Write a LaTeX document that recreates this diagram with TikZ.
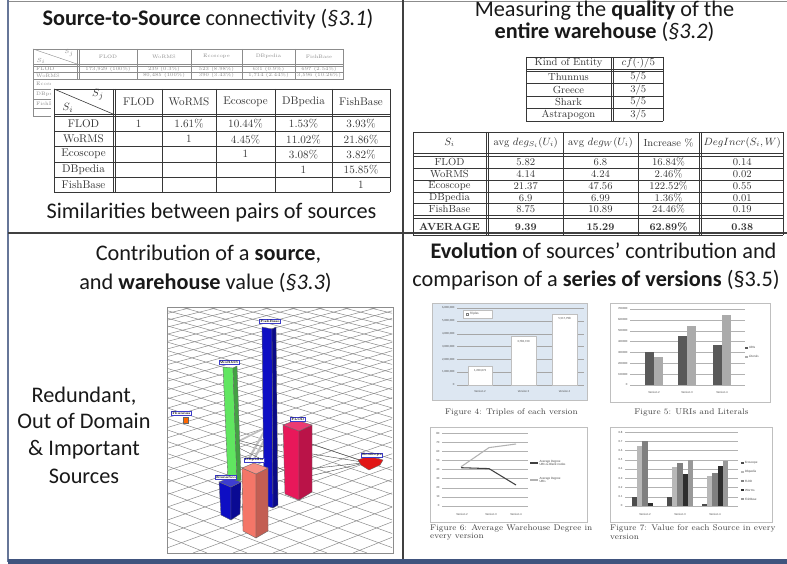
\documentclass[tikz,border=0pt]{standalone}
\usepackage{fontspec}
\usepackage{amsmath}
\newfontfamily\calib{Carlito}
\definecolor{frameblue}{RGB}{64,84,126}
\definecolor{divgray}{RGB}{64,64,64}
\definecolor{tabgray}{RGB}{55,55,55}
\definecolor{backgray}{RGB}{140,140,140}
\definecolor{plotblue}{RGB}{221,231,242}
\definecolor{wormsgreen}{RGB}{96,230,96}
\definecolor{flodpink}{RGB}{232,24,90}
\definecolor{dbsalmon}{RGB}{244,118,104}
\definecolor{fbblue}{RGB}{14,14,196}
\definecolor{ecored}{RGB}{226,22,22}
\definecolor{lblblue}{RGB}{60,60,200}

\tikzset{
  titre/.style={font=\calib\fontsize{19}{22}\selectfont, text=black!90, inner sep=0pt, anchor=base},
  cell/.style={font=\fontsize{9.5}{11}\selectfont, text=tabgray, inner sep=0pt},
  smallcell/.style={font=\fontsize{8.8}{10}\selectfont, text=tabgray, inner sep=0pt},
  backcell/.style={font=\fontsize{4.2}{5}\selectfont, text=backgray, inner sep=0pt},
  tabline/.style={draw=tabgray, line width=0.5pt},
  backline/.style={draw=backgray, line width=0.35pt},
  figbox/.style={draw=black!25, line width=0.4pt},
  gridl/.style={draw=black!48, line width=0.4pt},
  axlab/.style={font=\calib\fontsize{2.6}{3}\selectfont, text=black!70, inner sep=0.3pt},
  legtext/.style={font=\calib\fontsize{2.8}{3.2}\selectfont, text=black!70, inner sep=0.3pt, anchor=west, align=left},
  legenda/.style={font=\fontsize{7}{8}\selectfont, text=black!75, inner sep=0pt},
  barface/.style={draw=black!60, line width=0.3pt},
  edge/.style={draw=black!70, line width=0.35pt},
  barlabel/.style={draw=lblblue, fill=white, line width=0.3pt, font=\fontsize{2.8}{3}\selectfont\bfseries, inner sep=0.6pt}
}

\begin{document}
\begin{tikzpicture}[x=0.03cm, y=-0.03cm]
\useasboundingbox (0,0) rectangle (787,564);
\fill[white] (0,0) rectangle (787,564);

% molduras
\draw[black!45, line width=0.8pt] (8,1.5) -- (787,1.5);
\draw[frameblue!80, line width=2pt] (8,0) -- (8,562);
\fill[frameblue] (8,559) rectangle (787,564);
\draw[divgray, line width=1.6pt] (403,0) -- (403,559);
\draw[divgray, line width=1.6pt] (8,233) -- (787,233);

%%%%%%%%%%%%%%%% quadro 1
\node[titre] (tl-titre) at (208,26) {\textbf{Source-to-Source} connectivity (\textit{§3.1})};

% tabela de tras
\foreach \y in {49,64,66,72.5,79,89,99,108,116} \draw[backline] (33,\y) -- (343,\y);
\foreach \x in {33,77,79.5,137,191,242,295,343} \draw[backline] (\x,49) -- (\x,116);
\draw[backline] (33,49) -- (77,64);
\node[backcell] (b-sj) at (69,53) {$S_j$};
\node[backcell] (b-si) at (41,61) {$S_i$};
\foreach \x/\v [count=\c] in {108/FLOD, 164/WoRMS, 216.5/Ecoscope, 268.5/DBpedia, 319/FishBase}
  \node[backcell] (b-h\c) at (\x,56.5) {\v};
\foreach \v/\y [count=\r] in {FLOD/69.2, WoRMS/75.7, Ecoscope/84, DBpedia/94, FishBase/103.5}
  \node[backcell, anchor=west] (b-n\r) at (36,\y) {\v};
\foreach \x/\v [count=\c] in {108/{173,929 (100\%)}, 164/{239 (0.3\%)}, 216.5/{523 (8.98\%)}, 268.5/{631 (0.9\%)}, 319/{697 (2.54\%)}}
  \node[backcell] (b-1-\c) at (\x,69.2) {\v};
\foreach \x/\v [count=\c] in {164/{80,485 (100\%)}, 216.5/{390 (3.43\%)}, 268.5/{1,714 (2.44\%)}, 319/{3,596 (10.26\%)}}
  \node[backcell] (b-2-\c) at (\x,75.7) {\v};

% tabela da frente
\fill[white] (51,80) rectangle (393,195);
\foreach \x in {54,113,115.5,162,216,275,332,390} \draw[tabline] (\x,89) -- (\x,192);
\foreach \y in {89,114,116.5,131.6,146.7,161.8,176.9,192} \draw[tabline] (54,\y) -- (390,\y);
\draw[tabline] (54,89) -- (113,114);
\node[cell] (sj) at (98,95) {$S_j$};
\node[cell] (si) at (68,108) {$S_i$};
\foreach \x/\v [count=\c] in {138.75/FLOD, 189/WoRMS, 245.5/Ecoscope, 303.5/DBpedia, 361/FishBase}
  \node[cell] (sim-h\c) at (\x,101.5) {\v};
\foreach \v [count=\r] in {FLOD,WoRMS,Ecoscope,DBpedia,FishBase}
  \node[cell] (sim-n\r) at (83.5,{108.95+15.1*\r}) {\v};
\foreach \x/\v [count=\c] in {138.75/1, 189/1.61\%, 245.5/10.44\%, 303.5/1.53\%, 361/3.93\%}
  \node[cell] (sim-1-\c) at (\x,124.05) {\v};
\foreach \x/\v [count=\c] in {189/1, 245.5/4.45\%, 303.5/11.02\%, 361/21.86\%}
  \node[cell] (sim-2-\c) at (\x,139.15) {\v};
\foreach \x/\v [count=\c] in {245.5/1, 303.5/3.08\%, 361/3.82\%}
  \node[cell] (sim-3-\c) at (\x,154.25) {\v};
\foreach \x/\v [count=\c] in {303.5/1, 361/15.85\%}
  \node[cell] (sim-4-\c) at (\x,169.35) {\v};
\node[cell] (sim-5-1) at (361,184.45) {1};

\node[titre] (tl-leg) at (211.5,218) {Similarities between pairs of sources};

%%%%%%%%%%%%%%%% quadro 2
\node[titre] (tr-titre1) at (604.5,17) {Measuring the \textbf{quality} of the};
\node[titre] (tr-titre2) at (604.5,39) {\textbf{entire warehouse} (\textit{§3.2})};

% tabela cf
\foreach \x in {526,611,613.5,663} \draw[tabline] (\x,57) -- (\x,121);
\foreach \y in {57,69,71,83.5,96,108.5,121} \draw[tabline] (526,\y) -- (663,\y);
\node[smallcell] (cf-h1) at (568.5,63) {Kind of Entity};
\node[smallcell] (cf-h2) at (638.25,63) {$cf(\cdot)/5$};
\foreach \e [count=\r] in {Thunnus, Greece, Shark, Astrapogon}
  \node[smallcell] (cf-n\r) at (568.5,{64.75+12.5*\r}) {\e};
\foreach \v [count=\r] in {5/5,3/5,5/5,3/5}
  \node[smallcell] (cf-v\r) at (638.25,{64.75+12.5*\r}) {\v};

% tabela de graus
\foreach \x in {413,486,488.5,563,638,699,701.5,783} \draw[tabline] (\x,132) -- (\x,235);
\foreach \y in {132,153,156,168,180,192,203.5,215,218.5,235} \draw[tabline] (413,\y) -- (783,\y);
\foreach \x/\v [count=\c] in {449.5/{$S_i$}, 525.75/{avg $deg_{S_i}(U_i)$}, 600.5/{avg $deg_W(U_i)$}, 668.5/{Increase \%}, 742.25/{$DegIncr(S_i,W)$}}
  \node[smallcell] (deg-h\c) at (\x,142.5) {\v};
\foreach \y/\a/\b/\cc/\d/\e [count=\r] in {162/FLOD/5.82/6.8/16.84\%/0.14, 174/WoRMS/4.14/4.24/2.46\%/0.02, 186/Ecoscope/21.37/47.56/122.52\%/0.55, 197.75/DBpedia/6.9/6.99/1.36\%/0.01, 209.25/FishBase/8.75/10.89/24.46\%/0.19} {
  \node[smallcell] (deg-\r-1) at (449.5,\y) {\a};
  \node[smallcell] (deg-\r-2) at (525.75,\y) {\b};
  \node[smallcell] (deg-\r-3) at (600.5,\y) {\cc};
  \node[smallcell] (deg-\r-4) at (668.5,\y) {\d};
  \node[smallcell] (deg-\r-5) at (742.25,\y) {\e};
}
\foreach \x/\v [count=\c] in {449.5/AVERAGE, 525.75/9.39, 600.5/15.29, 668.5/62.89\%, 742.25/0.38}
  \node[smallcell, font=\fontsize{8.8}{10}\selectfont\bfseries] (deg-m\c) at (\x,226.75) {\v};

%%%%%%%%%%%%%%%% quadro 3
\node[titre] (bl-titre1) at (208.5,260) {Contribution of a \textbf{source},};
\node[titre] (bl-titre2) at (205.5,289) {and \textbf{warehouse} value (\textit{§3.3})};
\foreach \t/\y [count=\k] in {{Redundant,}/402, {Out of Domain}/428, {\& Important}/455, {Sources}/483}
  \node[titre] (bl-lado\k) at (84,\y) {\t};

% grafico 3D
\draw[draw=black!45, fill=white, line width=0.6pt] (167,307) rectangle (393,553);
\begin{scope}
\clip (168,308) rectangle (392,552);
\foreach \b in {167,207,...,1620} \draw[gridl] (-1614,-180) -- (\b,553);
\foreach \b in {393,353,...,-1040} \draw[gridl] (2174,-180) -- (\b,553);
\end{scope}

% arestas
\draw[draw=black!25, line width=1.8pt] (247,462) -- (265,430);
\draw[draw=black!25, line width=1.8pt] (252,463) -- (268,433);
\draw[draw=black!25, line width=1.5pt] (237,442) -- (265,428);
\draw[edge] (237,440) -- (283,452);
\draw[edge] (237,447) -- (283,470);
\draw[edge] (300,440) -- (362,461);
\draw[edge] (300,452) -- (362,462);
\draw[edge] (299,470) -- (362,463);
\draw[edge] (285,482) -- (360,464);
\draw[edge] (262,478) -- (285,470);

% barras
\filldraw[barface, fill=wormsgreen] (223,367) -- (233,368) -- (237,482) -- (228,481) -- cycle;
\filldraw[barface, fill=wormsgreen!70!black] (233,368) -- (237,366) -- (241,480) -- (237,482) -- cycle;
\filldraw[barface, fill=fbblue] (262,327) -- (272,329) -- (273,508) -- (264,505) -- cycle;
\filldraw[barface, fill=fbblue!70!black] (272,329) -- (276,327) -- (278,505) -- (273,508) -- cycle;
\filldraw[barface, fill=fbblue] (219,482) -- (231,487) -- (231,520) -- (221,515) -- cycle;
\filldraw[barface, fill=fbblue!75!black] (231,487) -- (241,482) -- (240,514) -- (231,520) -- cycle;
\filldraw[barface, fill=fbblue!80!white] (219,482) -- (229,478) -- (241,482) -- (231,487) -- cycle;
\filldraw[barface, fill=flodpink] (283,425) -- (299,431) -- (299,500) -- (285,494) -- cycle;
\filldraw[barface, fill=flodpink!80!black] (299,431) -- (312,425) -- (312,492) -- (299,500) -- cycle;
\filldraw[barface, fill=flodpink!85!white] (283,425) -- (296,420) -- (312,425) -- (299,431) -- cycle;
\filldraw[barface, fill=dbsalmon] (242,468) -- (256,474) -- (256,538) -- (243,531) -- cycle;
\filldraw[barface, fill=dbsalmon!80!black] (256,474) -- (268,468) -- (268,531) -- (256,538) -- cycle;
\filldraw[barface, fill=dbsalmon!80!white] (242,468) -- (254,463) -- (268,468) -- (256,474) -- cycle;
\filldraw[barface, fill=ecored] (358,460) -- (368,456) -- (383,460) -- (380,465) -- (369,470) -- (361,465) -- cycle;
\filldraw[barface, fill=orange!80!red] (183,417) rectangle (188,423);

% rotulos das barras
\node[barlabel] (lb-fb) at (270,321) {FishBase};
\node[barlabel] (lb-worms) at (229,362) {WoRMS};
\node[barlabel] (lb-flod) at (298,419) {FLOD};
\node[barlabel] (lb-dbp) at (254,460) {DBpedia};
\node[barlabel] (lb-elona) at (226,477) {ElonaSco};
\node[barlabel] (lb-eco) at (372,455) {Ecoscope};
\node[barlabel] (lb-thun) at (181,413) {Thunnus};

%%%%%%%%%%%%%%%% quadro 4
\node[titre] (br-titre1) at (603.5,258) {\textbf{Evolution} of sources’ contribution and};
\node[titre] (br-titre2) at (596,286) {comparison of a \textbf{series of versions} (§3.5)};

% figura 4
\filldraw[figbox, fill=plotblue] (432,303) rectangle (587,400);
\foreach \k/\lab in {0/0,1/{1,000,000},2/{2,000,000},3/{3,000,000},4/{4,000,000},5/{5,000,000},6/{6,000,000}} {
  \draw[black!35, line width=0.3pt] (457,{385-12.83*\k}) -- (584,{385-12.83*\k});
  \node[axlab, anchor=east] (f4-y\k) at (455,{385-12.83*\k}) {\lab};
}
\filldraw[figbox, fill=white] (468,365.9) rectangle (492,385);
\filldraw[figbox, fill=white] (511,336.5) rectangle (536,385);
\filldraw[figbox, fill=white] (552,314.2) rectangle (577,385);
\node[axlab] (f4-v2) at (480,371) {1,490,073};
\node[axlab] (f4-v3) at (523.5,342) {3,783,150};
\node[axlab] (f4-v4) at (564.5,319) {5,517,998};
\filldraw[figbox, fill=white] (463,310) rectangle (492,318);
\draw[black!50, line width=0.3pt] (466,312.8) rectangle (468.4,315.2);
\node[legtext] (f4-leg) at (469.5,314) {Triples};
\foreach \x/\v [count=\k] in {480/Version 2, 523.5/Version 3, 564.5/Version 4}
  \node[axlab] (f4-x\k) at (\x,391) {\v};
\node[legenda] (f4-cap) at (511.5,412) {Figure 4: Triples of each version};

% figura 5
\filldraw[figbox, fill=white] (610,303) rectangle (770,402);
\foreach \k/\lab in {0/0,1/100000,2/200000,3/300000,4/400000,5/500000,6/600000,7/700000} {
  \draw[black!30, line width=0.3pt] (630,{385-10.86*\k}) -- (745,{385-10.86*\k});
  \node[axlab, anchor=east] (f5-y\k) at (628,{385-10.86*\k}) {\lab};
}
\foreach \x/\u/\l [count=\k] in {645/3.00/2.60, 678/4.50/5.40, 713/3.65/6.45} {
  \fill[black!65] (\x,{385-10.86*\u}) rectangle (\x+9,385);
  \fill[black!33] (\x+9,{385-10.86*\l}) rectangle (\x+18,385);
}
\fill[black!65] (745,346.5) rectangle (747.5,349);
\node[legtext] (f5-uri) at (748.5,347.8) {URIs};
\fill[black!33] (745,355.5) rectangle (747.5,358);
\node[legtext] (f5-lit) at (748.5,356.8) {Literals};
\foreach \x/\v [count=\k] in {654/Version 2, 687/Version 3, 722/Version 4}
  \node[axlab] (f5-x\k) at (\x,392) {\v};
\node[legenda] (f5-cap) at (691.5,412) {Figure 5: URIs and Literals};

% figura 6
\filldraw[figbox, fill=white] (430,427) rectangle (587,522);
\foreach \k in {0,...,8} {
  \draw[black!30, line width=0.3pt] (442,{506-9.125*\k}) -- (528,{506-9.125*\k});
  \node[axlab, anchor=east] (f6-y\k) at (440,{506-9.125*\k}) {\the\numexpr\k*10\relax};
}
\draw[black!75, line width=0.9pt] (461,467.7) -- (489,468.6) -- (516,485);
\draw[black!30, line width=0.9pt] (461,466.8) -- (489,447.6) -- (516,444);
\draw[black!75, line width=0.9pt] (530,463) -- (538,463);
\node[legtext] (f6-leg1) at (539,463) {Average Degree\\URIs \& Blank nodes};
\draw[black!30, line width=0.9pt] (530,480) -- (538,480);
\node[legtext] (f6-leg2) at (539,480) {Average Degree\\URIs};
\foreach \x/\v [count=\k] in {462/Version 2, 491/Version 3, 516/Version 4}
  \node[axlab] (f6-x\k) at (\x,514) {\v};
\node[legenda, anchor=west] (f6-cap1) at (430,528) {Figure 6: Average Warehouse Degree in};
\node[legenda, anchor=west] (f6-cap2) at (430,537) {every version};

% figura 7
\filldraw[figbox, fill=white] (610,427) rectangle (772,522);
\foreach \k in {0,...,8} {
  \draw[black!30, line width=0.3pt] (625,{506-9.25*\k}) -- (738,{506-9.25*\k});
  \node[axlab, anchor=east] (f7-y\k) at (623,{506-9.25*\k}) {\ifnum\k=0 0\else 0.\k\fi};
}
\foreach \x/\a/\b/\cc/\d/\e in {631.7/1/6.5/7/0.3/0, 666.7/1/4.2/4.6/3.5/5, 701.7/0.2/3.2/3.6/4.3/4.9} {
  \fill[black!70] (\x,{506-9.25*\a}) rectangle (\x+5.3,506);
  \fill[black!28] (\x+5.3,{506-9.25*\b}) rectangle (\x+10.6,506);
  \fill[black!50] (\x+10.6,{506-9.25*\cc}) rectangle (\x+15.9,506);
  \fill[black!82] (\x+15.9,{506-9.25*\d}) rectangle (\x+21.2,506);
  \fill[black!40] (\x+21.2,{506-9.25*\e}) rectangle (\x+26.5,506);
}
\foreach \v/\c [count=\k] in {Ecoscope/70, Dbpedia/28, FLOD/50, Worms/82, FishBase/40} {
  \fill[black!\c] (741,{452.8+9*\k}) rectangle (743.5,{455.3+9*\k});
  \node[legtext] (f7-leg\k) at (744.5,{454+9*\k}) {\v};
}
\foreach \x/\v [count=\k] in {645/Version 2, 680/Version 3, 715/Version 4}
  \node[axlab] (f7-x\k) at (\x,514) {\v};
\node[legenda, anchor=west] (f7-cap1) at (610,528) {Figure 7: Value for each Source in every};
\node[legenda, anchor=west] (f7-cap2) at (610,537) {version};
\end{tikzpicture}
\end{document}
